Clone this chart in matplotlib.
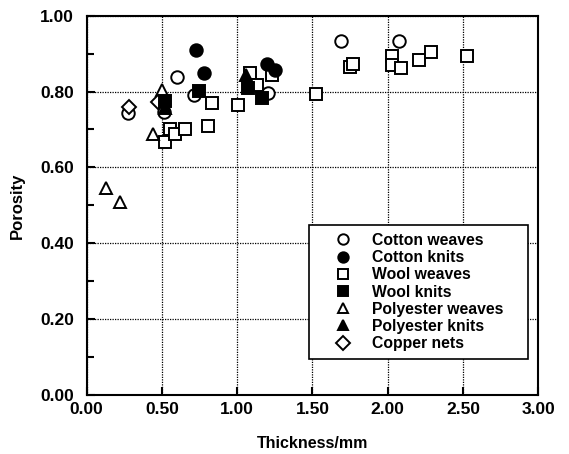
import matplotlib.pyplot as plt
from matplotlib.ticker import MultipleLocator

plt.rcParams['font.family'] = ['Liberation Sans', 'DejaVu Sans']
plt.rcParams['font.weight'] = 'bold'

# thickness (mm), porosity
cotton_weaves_x = [0.276, 0.602, 0.713, 0.516, 1.207, 1.688, 2.073]
cotton_weaves_y = [0.744, 0.838, 0.791, 0.747, 0.795, 0.933, 0.933]

cotton_knits_x = [0.723, 0.782, 1.196, 1.251]
cotton_knits_y = [0.910, 0.850, 0.872, 0.857]

wool_weaves_x = [0.517, 0.554, 0.588, 0.654, 0.805, 0.831, 1.007, 1.086, 1.130, 1.229,
                 1.520, 1.750, 1.770, 2.027, 2.027, 2.088, 2.210, 2.285, 2.525]
wool_weaves_y = [0.667, 0.702, 0.689, 0.702, 0.710, 0.771, 0.765, 0.848, 0.817, 0.844,
                 0.794, 0.866, 0.873, 0.893, 0.871, 0.861, 0.884, 0.903, 0.893]

wool_knits_x = [0.520, 0.749, 1.074, 1.163]
wool_knits_y = [0.775, 0.802, 0.809, 0.782]

poly_weaves_x = [0.126, 0.222, 0.439, 0.499]
poly_weaves_y = [0.545, 0.510, 0.689, 0.804]

poly_knits_x = [0.520, 1.060]
poly_knits_y = [0.757, 0.844]

copper_x = [0.282, 0.475]
copper_y = [0.758, 0.772]

fig = plt.figure(figsize=(5.69, 4.54), dpi=100)
ax = fig.add_axes([0.1524, 0.130, 0.7936, 0.8354])

mk = dict(linestyle='none', markeredgecolor='black', markeredgewidth=1.4)
ax.plot(wool_weaves_x, wool_weaves_y, 's', ms=8, markerfacecolor='white', label='Wool weaves', **mk)
ax.plot(cotton_weaves_x, cotton_weaves_y, 'o', ms=9, markerfacecolor='white', label='Cotton weaves', **mk)
ax.plot(poly_weaves_x, poly_weaves_y, '^', ms=9, markerfacecolor='white', label='Polyester weaves', **mk)
ax.plot(copper_x, copper_y, 'D', ms=7, markerfacecolor='white', label='Copper nets', **mk)
ax.plot(cotton_knits_x, cotton_knits_y, 'o', ms=9, markerfacecolor='black', label='Cotton knits', **mk)
ax.plot(wool_knits_x, wool_knits_y, 's', ms=8, markerfacecolor='black', label='Wool knits', **mk)
ax.plot(poly_knits_x, poly_knits_y, '^', ms=9, markerfacecolor='black', label='Polyester knits', **mk)

ax.set_xlim(0, 3)
ax.set_ylim(0, 1)
ax.xaxis.set_major_locator(MultipleLocator(0.5))
ax.yaxis.set_major_locator(MultipleLocator(0.2))
ax.yaxis.set_minor_locator(MultipleLocator(0.1))
ax.xaxis.set_major_formatter(lambda v, p: f'{v:.2f}')
ax.yaxis.set_major_formatter(lambda v, p: f'{v:.2f}')
ax.tick_params(which='major', direction='in', length=6, width=1.5, labelsize=12.5)
ax.tick_params(which='minor', direction='in', length=5, width=1.5)
ax.tick_params(axis='y', pad=9)
ax.tick_params(axis='x', pad=5)
ax.grid(True, which='major', color='black', linestyle=(0, (1, 1)), linewidth=0.9)
for s in ax.spines.values():
    s.set_linewidth(1.5)

ax.set_xlabel('Thickness/mm', fontsize=11.5, fontweight='bold', labelpad=14)
ax.set_ylabel('Porosity', fontsize=12, fontweight='bold', labelpad=11)

h, l = ax.get_legend_handles_labels()
order = ['Cotton weaves', 'Cotton knits', 'Wool weaves', 'Wool knits',
         'Polyester weaves', 'Polyester knits', 'Copper nets']
hs = [h[l.index(n)] for n in order]
leg = ax.legend(hs, order, loc='upper left', bbox_to_anchor=(0.492, 0.095, 0.485, 0.353),
                mode='expand', frameon=True, fancybox=False, framealpha=1,
                edgecolor='black', labelspacing=0.14, handletextpad=0.2,
                borderpad=0.5, handlelength=3.3, borderaxespad=0,
                prop={'weight': 'bold', 'size': 11.3})
leg.get_frame().set_linewidth(1.2)
for lh in leg.legend_handles:
    lh.set_markersize(7.5)

fig.savefig('out.png', dpi=100)
